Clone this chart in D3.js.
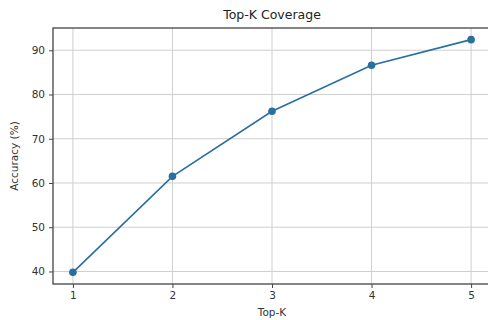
<!DOCTYPE html>
<html>
<head>
<meta charset="utf-8">
<script src="https://cdn.jsdelivr.net/npm/d3@7"></script>
<style>
  html, body { margin: 0; padding: 0; background: #fff; }
  svg { display: block; }
  text { font-family: "DejaVu Sans", sans-serif; }
</style>
</head>
<body>
<div id="chart"></div>
<script>
const categories = [1, 2, 3, 4, 5];
const accuracy = [39.8, 61.5, 76.2, 86.6, 92.4];
const xTicks = [1, 2, 3, 4, 5];
const yTicks = [40, 50, 60, 70, 80, 90];
const title = "Top-K Coverage";
const xLabel = "Top-K";
const yLabel = "Accuracy (%)";

(function () {
const W = 488, H = 320;
const mLeft = 53, mRight = 491, mTop = 28, mBottom = 284;
const color = "#2a6f9f";

const svg = d3.select("#chart").append("svg")
  .attr("width", W).attr("height", H);

const x = d3.scaleLinear().domain([0.8, 5.2]).range([mLeft, mRight]);
const y = d3.scaleLinear().domain([37.17, 95.03]).range([mBottom, mTop]);

// grid
svg.append("g").selectAll("line").data(xTicks).join("line")
  .attr("x1", d => x(d)).attr("x2", d => x(d))
  .attr("y1", mTop).attr("y2", mBottom)
  .attr("stroke", "#cfcfcf").attr("stroke-width", 1);
svg.append("g").selectAll("line").data(yTicks).join("line")
  .attr("x1", mLeft).attr("x2", mRight)
  .attr("y1", d => y(d)).attr("y2", d => y(d))
  .attr("stroke", "#cfcfcf").attr("stroke-width", 1);

// axes
const xAxis = d3.axisBottom(x).tickValues(xTicks).tickSize(4).tickPadding(4).tickFormat(d3.format("d"));
const yAxis = d3.axisLeft(y).tickValues(yTicks).tickSize(4).tickPadding(4).tickFormat(d3.format("d"));

const gx = svg.append("g").attr("transform", `translate(0,${mBottom})`).call(xAxis);
const gy = svg.append("g").attr("transform", `translate(${mLeft},0)`).call(yAxis);
[gx, gy].forEach(g => {
  g.select(".domain").remove();
  g.selectAll(".tick line").attr("stroke", "#444").attr("stroke-width", 1);
  g.selectAll(".tick text").attr("fill", "#333").style("font-size", "10.5px")
    .style("font-family", "DejaVu Sans, sans-serif");
});

// spines
svg.append("rect")
  .attr("x", mLeft).attr("y", mTop)
  .attr("width", mRight - mLeft).attr("height", mBottom - mTop)
  .attr("fill", "none").attr("stroke", "#444").attr("stroke-width", 1.3);

// line
const line = d3.line().x((d, i) => x(categories[i])).y(d => y(d));
svg.append("path").datum(accuracy)
  .attr("d", line).attr("fill", "none")
  .attr("stroke", color).attr("stroke-width", 1.6);

svg.append("g").selectAll("circle").data(accuracy).join("circle")
  .attr("cx", (d, i) => x(categories[i])).attr("cy", d => y(d))
  .attr("r", 3.8).attr("fill", color);

// title and labels
svg.append("text").attr("x", (mLeft + mRight) / 2).attr("y", 19)
  .attr("text-anchor", "middle").attr("fill", "#222")
  .style("font-size", "12.5px").text(title);

svg.append("text").attr("x", (mLeft + mRight) / 2).attr("y", 316)
  .attr("text-anchor", "middle").attr("fill", "#333")
  .style("font-size", "10.5px").text(xLabel);

svg.append("text")
  .attr("transform", `translate(18,${(mTop + mBottom) / 2}) rotate(-90)`)
  .attr("text-anchor", "middle").attr("fill", "#333")
  .style("font-size", "10.5px").text(yLabel);
})();
</script>
</body>
</html>
